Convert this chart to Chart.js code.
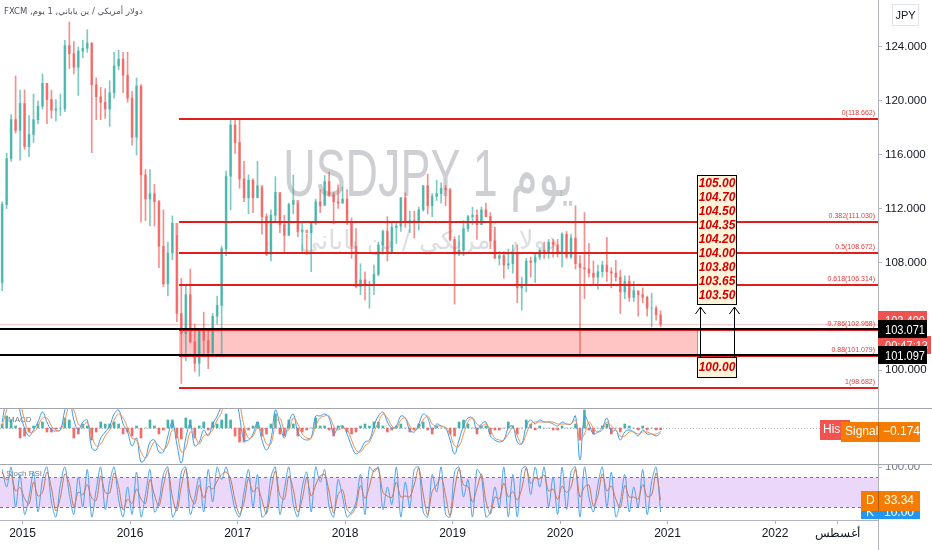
<!DOCTYPE html>
<html>
<head>
<meta charset="utf-8">
<script src="https://cdn.jsdelivr.net/npm/chart.js@4.4.1/dist/chart.umd.min.js"></script>
<style>
body { margin: 0; background: #fff; }
#wrap { position: relative; width: 932px; height: 550px; overflow: hidden; }
canvas { position: absolute; left: 0; }
</style>
</head>
<body>
<div id="wrap">
  <canvas id="main" width="932" height="408" style="top:0"></canvas>
  <canvas id="macd" width="932" height="56" style="top:408px"></canvas>
  <canvas id="stoch" width="932" height="86" style="top:464px"></canvas>
</div>
<script>
// half-month candles, from the second half of Oct 2014 to early Dec 2020
var periodStart = 2014.79;
var periodLen = 1 / 24;
var firstOpen = 106.5;

var highs = [112.5,116.1,118.98,121.85,120.8,
  120.8,118.9,120.5,120.0,122.0,121.3,120.8,120.1,120.5,124.5,125.86,124.4,124.0,124.5,125.28,124.3,121.7,121.0,120.9,121.5,123.6,123.75,123.6,123.6,
  120.7,121.7,121.2,114.9,114.9,113.8,112.6,111.9,109.5,111.45,110.0,106.8,106.3,107.5,103.4,103.0,104.3,102.9,104.2,105.5,109.2,114.8,118.66,118.6,
  118.6,115.5,114.5,114.2,115.5,113.5,111.6,111.9,114.37,113.1,111.5,112.4,114.49,112.4,110.95,110.1,111.0,112.7,113.4,114.45,114.7,113.2,113.75,113.6,
  113.4,111.3,110.5,107.9,107.3,106.6,107.8,109.5,110.4,111.4,110.9,110.9,112.8,113.17,111.8,111.8,112.1,113.7,114.55,113.1,114.1,113.9,113.7,113.5,
  109.9,110.0,111.1,111.5,112.1,111.9,112.1,112.4,111.7,110.6,108.8,108.8,108.99,109.3,109.3,106.9,108.3,108.4,108.6,109.0,109.5,109.7,109.7,109.7,
  110.2,110.3,110.1,112.2,108.5,111.7,109.4,108.1,107.8,108.1,109.85,107.6,108.15,107.4,107.0,107.0,106.6,105.8,106.1,105.5,105.7,104.75,104.4];
var lows = [105.9,112.0,115.5,117.6,115.6,
  116.4,115.85,116.9,118.3,119.4,118.3,118.7,118.5,118.9,119.2,122.4,122.0,120.4,123.2,123.6,116.15,118.6,118.6,118.7,118.1,120.2,122.3,120.6,119.9,
  116.7,115.97,110.98,111.1,110.7,110.7,107.6,106.2,105.5,108.2,103.6,99.0,100.7,102.0,99.9,99.55,101.2,100.1,101.2,103.4,101.2,108.5,111.9,116.1,
  113.5,112.5,111.6,111.7,112.8,110.1,108.5,108.1,111.0,110.2,108.8,110.0,111.6,109.9,108.7,108.6,107.3,110.8,111.7,112.3,112.9,110.85,112.0,112.4,
  110.8,108.3,106.1,105.6,105.2,104.6,105.6,107.0,108.6,108.1,108.8,109.4,110.3,110.6,110.2,109.8,110.4,111.8,111.6,111.4,112.6,112.4,112.2,109.6,
  104.9,108.5,108.5,110.3,110.8,109.7,110.8,111.4,109.0,108.3,107.8,106.8,107.5,107.2,105.0,104.45,105.8,106.9,106.5,108.2,108.3,108.3,108.4,108.4,
  107.65,108.3,108.3,107.5,101.18,105.3,106.9,106.4,106.0,106.9,106.6,106.1,106.6,104.2,105.3,105.1,105.1,104.0,105.0,104.0,103.2,103.7,103.2];
var closes = [112.3,115.7,118.6,117.8,119.8,
  116.6,117.5,118.6,119.6,121.3,120.1,119.3,119.4,119.4,124.1,123.5,122.5,123.7,123.9,124.3,121.2,120.3,119.9,119.4,120.6,122.6,123.1,121.9,120.2,
  117.3,121.1,114.5,112.7,113.1,112.5,109.2,106.4,108.7,110.9,104.2,102.7,105.6,102.1,100.5,102.9,102.2,101.3,104.0,104.8,109.0,114.4,118.2,116.9,
  114.2,112.8,114.1,112.8,113.7,111.4,108.6,111.5,113.2,110.8,110.0,112.3,112.6,110.3,110.4,110.2,110.9,112.5,112.2,114.0,113.0,112.5,112.4,112.7,
  111.0,109.2,106.2,106.7,106.3,106.3,107.1,109.3,110.3,108.8,110.6,110.7,112.8,111.0,111.1,111.0,111.9,113.7,112.2,112.9,113.1,113.5,113.4,109.7,
  108.6,108.9,110.5,111.4,111.5,110.8,111.9,111.4,109.6,108.3,108.5,107.8,107.9,108.7,106.1,106.3,108.1,108.0,108.4,108.9,108.8,109.5,109.3,108.7,
  110.1,108.4,109.8,107.9,107.6,107.5,107.2,106.9,107.3,107.8,107.3,107.2,106.9,105.8,106.6,105.4,105.9,105.6,105.4,104.6,104.6,104.1,103.4];

var macdLine = [0.3,1.5,2.0,2.0,0.8,
  0.0,-0.4,-0.1,0.3,0.8,0.3,-0.1,-0.15,-0.1,0.9,1.5,0.4,-0.1,0.3,0.4,-1.0,-1.1,-0.5,-0.2,0.1,0.7,0.9,0.2,-0.2,
  -0.9,-0.5,-1.7,-1.5,-0.7,-0.6,-1.2,-1.2,-0.4,0.3,-0.8,-1.75,-0.5,0.2,-0.9,-0.7,-0.1,-0.4,0.2,0.6,1.2,2.5,3.0,2.0,
  0.6,-0.6,-0.6,-0.3,0.3,-0.6,-1.1,-0.6,0.9,0.2,-0.5,0.3,0.7,-0.2,-0.5,-0.6,-0.5,0.6,0.6,0.7,0.5,-0.3,0.0,0.1,
  -0.3,-0.9,-1.3,-1.1,-0.7,-0.6,0.1,0.6,0.8,0.3,0.0,0.1,0.6,0.5,-0.1,-0.2,0.2,0.7,0.5,-0.1,0.2,0.1,0.0,-0.6,
  -1.3,-0.6,0.1,0.5,0.5,-0.1,0.2,0.3,-0.4,-0.6,-0.7,-0.6,0.0,0.1,-0.7,-0.8,0.1,0.4,0.2,0.4,0.3,0.3,0.2,0.1,
  0.3,0.2,0.2,0.6,-1.6,0.6,0.2,-0.3,-0.2,0.0,0.5,-0.2,-0.1,-0.6,-0.2,-0.1,-0.2,-0.4,-0.1,-0.3,-0.3,-0.4,-0.25];
var signalLine = [0.1,0.9,1.6,1.9,1.3,
  0.4,-0.2,-0.2,0.1,0.5,0.5,0.1,-0.1,-0.1,0.4,1.1,0.9,0.2,0.1,0.3,-0.4,-0.9,-0.8,-0.4,-0.1,0.4,0.7,0.5,0.0,
  -0.5,-0.6,-1.2,-1.5,-1.1,-0.7,-0.9,-1.1,-0.8,-0.1,-0.3,-1.2,-1.0,-0.2,-0.4,-0.8,-0.4,-0.3,-0.1,0.4,0.8,1.8,2.6,2.4,
  1.3,0.1,-0.5,-0.4,0.0,-0.2,-0.8,-0.8,0.2,0.5,-0.1,-0.1,0.5,0.2,-0.3,-0.5,-0.5,0.1,0.5,0.6,0.6,0.1,-0.1,0.0,
  -0.1,-0.6,-1.1,-1.2,-0.9,-0.7,-0.2,0.3,0.7,0.5,0.1,0.0,0.4,0.5,0.1,-0.1,0.0,0.4,0.6,0.2,0.1,0.1,0.0,-0.3,
  -0.9,-0.9,-0.3,0.3,0.5,0.2,0.1,0.2,-0.1,-0.5,-0.6,-0.6,-0.3,0.0,-0.4,-0.8,-0.3,0.2,0.3,0.3,0.3,0.3,0.3,0.2,
  0.2,0.2,0.2,0.4,-0.6,-0.3,0.3,0.0,-0.2,-0.1,0.3,0.1,-0.1,-0.4,-0.4,-0.2,-0.2,-0.3,-0.2,-0.2,-0.3,-0.3,-0.174];
var macdHist = [0.2,0.6,0.4,0.1,-0.5,
  -0.4,-0.2,0.1,0.2,0.3,-0.2,-0.2,-0.05,0.0,0.5,0.4,-0.5,-0.3,0.2,0.1,-0.6,-0.2,0.3,0.2,0.2,0.3,0.2,-0.3,-0.2,
  -0.4,0.1,-0.5,0.0,0.4,0.1,-0.3,-0.1,0.4,0.4,-0.5,-0.55,0.5,0.4,-0.5,0.1,0.3,-0.1,0.3,0.2,0.4,0.7,0.4,-0.4,
  -0.7,-0.7,-0.1,0.1,0.3,-0.4,-0.3,0.2,0.7,-0.3,-0.4,0.4,0.2,-0.4,-0.2,-0.1,0.0,0.5,0.1,0.1,-0.1,-0.4,0.1,0.1,
  -0.2,-0.3,-0.2,0.1,0.2,0.1,0.3,0.3,0.1,-0.2,-0.1,0.1,0.2,0.0,-0.2,-0.1,0.2,0.3,-0.1,-0.3,0.1,0.0,0.0,-0.3,
  -0.4,0.3,0.4,0.2,0.0,-0.3,0.1,0.1,-0.3,-0.1,-0.1,0.0,0.3,0.1,-0.3,0.0,0.4,0.2,-0.1,0.1,0.0,0.0,-0.1,-0.1,
  0.1,0.0,0.0,0.2,-0.6,0.9,-0.1,-0.3,0.0,0.1,0.2,-0.3,0.0,-0.2,0.2,0.1,0.0,-0.1,0.1,-0.1,0.0,-0.1,-0.08];

var stochK = [95,60,100,20,85,5,40,90,10,75,100,30,0,65,100,45,5,80,20,95,
  0,55,100,15,70,100,35,0,60,5,90,0,45,95,10,30,85,100,0,20,
  90,100,5,40,80,10,95,30,100,75,100,60,15,0,50,95,20,85,0,10,
  80,100,5,55,100,25,0,60,90,10,100,70,95,20,0,75,40,0,10,30,
  85,5,100,90,100,15,60,25,100,0,70,20,95,100,10,0,85,50,100,5,
  0,90,100,40,75,0,95,80,0,10,60,20,100,0,85,0,95,100,45,100,
  60,100,20,80,5,100,15,90,100,0,100,40,10,65,100,20,90,0,30,85,
  10,60,20,95,5,70,100,10];
var stochD = [90,74,84,52,59,37,26,70,42,49,90,58,12,39,86,67,21,50,44,65,
  38,33,82,49,48,88,61,14,36,27,56,36,27,75,44,22,63,94,40,12,
  62,96,43,26,64,38,61,56,72,85,90,76,33,6,30,77,50,59,34,6,
  52,92,43,35,82,55,10,36,78,42,64,82,85,50,8,45,54,16,6,22,
  63,37,62,94,96,49,42,39,70,40,42,40,65,98,46,4,51,64,80,43,
  2,54,96,64,61,30,57,86,32,6,40,36,68,40,51,34,57,98,67,78,
  76,84,52,56,35,62,49,60,96,40,60,64,22,43,86,52,62,36,18,63,
  40,40,36,65,41,44,88,33.34];

var priceTicks = [100, 104, 108, 112, 116, 120, 124];
var yearTicks = [2015, 2016, 2017, 2018, 2019, 2020, 2021, 2022, 2022.58];
var yearLabels = ['2015', '2016', '2017', '2018', '2019', '2020', '2021', '2022', 'أغسطس'];

var fibRatios = [0, 0.382, 0.5, 0.618, 0.786, 0.88, 1];
var fibPrices = [118.662, 111.030, 108.672, 106.314, 102.958, 101.079, 98.682];
var supportLevels = [103.071, 101.097];
var targetLevels = [105.00, 104.70, 104.50, 104.35, 104.20, 104.00, 103.80, 103.65, 103.50];
var stopLevel = 100.00;

// drawing anchors (date, price) for the hand drawn tools
var xMin = 2014.7907, xMax = 2022.9581;
var fibFrom = 2016.456;
var zoneTo = 2021.274;
var targetBox = { from: 2021.274, to: 2021.647, top: 114.5 };
var stopBoxTop = 100.97;
var arrowDates = [2021.302, 2021.623];

var titleText = 'دولار أمريكي / ين ياباني, 1 يوم, FXCM';
var watermark1 = 'USDJPY 1 يوم';
var watermark2 = 'دولار أمريكي / ين ياباني';

Chart.defaults.font.family = '"Liberation Sans", Arial, sans-serif';
var axisGray = '#b2b5be';
var upColor = 'rgba(38,166,154,0.6)';
var downColor = 'rgba(239,83,80,0.65)';

var xs = closes.map(function (c, i) { return periodStart + (i + 0.5) * periodLen; });
var opens = closes.map(function (c, i) { return i === 0 ? firstOpen : closes[i - 1]; });
var candleColors = closes.map(function (c, i) { return c >= opens[i] ? upColor : downColor; });

function fixWidth(s) { s.width = 54; s.paddingTop = 0; s.paddingBottom = 0; }

// label box sitting on the price scale, narrow digits like the original
function priceBox(ctx, yc, text, bg, x0, x1) {
  yc = Math.round(yc);
  ctx.fillStyle = bg;
  ctx.fillRect(x0, yc - 9, x1 - x0, 18);
  ctx.save();
  ctx.fillStyle = '#fff';
  ctx.font = '13px "Liberation Sans"';
  ctx.textAlign = 'left';
  ctx.textBaseline = 'middle';
  ctx.translate(x0 + 7, yc + 1);
  ctx.scale(0.85, 1);
  ctx.fillText(text, 0, 0);
  ctx.restore();
}

var mainOverlay = {
  id: 'mainOverlay',
  beforeDatasetsDraw: function (chart) {
    var ctx = chart.ctx, a = chart.chartArea, x = chart.scales.x, y = chart.scales.y;
    ctx.save();
    // watermark
    ctx.textAlign = 'center';
    ctx.textBaseline = 'alphabetic';
    ctx.fillStyle = 'rgba(120,123,134,0.36)';
    ctx.save();
    ctx.translate(a.left + a.width * 0.488, a.top + a.height * 0.48);
    ctx.scale(0.68, 1);
    ctx.font = '66px "Liberation Sans", "DejaVu Sans"';
    ctx.fillText(watermark1, 0, 0);
    ctx.restore();
    ctx.fillStyle = 'rgba(120,123,134,0.25)';
    ctx.font = '26px "DejaVu Sans"';
    ctx.fillText(watermark2, a.left + a.width * 0.488, a.top + a.height * 0.61);
    // zone
    var zx0 = x.getPixelForValue(fibFrom), zx1 = x.getPixelForValue(zoneTo);
    var zy0 = y.getPixelForValue(fibPrices[4]), zy1 = y.getPixelForValue(fibPrices[5]);
    ctx.fillStyle = 'rgba(255,60,60,0.3)';
    ctx.fillRect(zx0, zy0, zx1 - zx0, zy1 - zy0);
    ctx.strokeStyle = '#5cc65c';
    ctx.lineWidth = 1;
    ctx.beginPath();
    ctx.moveTo(zx1 + 0.5, zy0); ctx.lineTo(zx1 + 0.5, zy1);
    ctx.stroke();
    // last price line
    var ly = Math.round(y.getPixelForValue(closes[closes.length - 1])) + 0.5;
    ctx.strokeStyle = 'rgba(239,83,80,0.3)';
    ctx.beginPath(); ctx.moveTo(a.left, ly); ctx.lineTo(a.right, ly); ctx.stroke();
    ctx.restore();
  },
  afterDatasetsDraw: function (chart) {
    var ctx = chart.ctx, a = chart.chartArea, x = chart.scales.x, y = chart.scales.y;
    ctx.save();
    var fx0 = x.getPixelForValue(fibFrom), zx1 = x.getPixelForValue(zoneTo);
    // zone edges
    ctx.strokeStyle = '#4caf50';
    ctx.lineWidth = 1.5;
    [fibPrices[4], fibPrices[5]].forEach(function (p) {
      var yy = y.getPixelForValue(p);
      ctx.beginPath(); ctx.moveTo(fx0, yy); ctx.lineTo(zx1, yy); ctx.stroke();
    });
    // fib levels
    ctx.lineWidth = 2;
    ctx.strokeStyle = '#e01e1e';
    ctx.font = '7px "Liberation Sans"';
    ctx.textAlign = 'right';
    ctx.textBaseline = 'bottom';
    fibPrices.forEach(function (p, i) {
      var yy = Math.round(y.getPixelForValue(p));
      ctx.beginPath(); ctx.moveTo(fx0, yy); ctx.lineTo(a.right, yy); ctx.stroke();
      ctx.fillStyle = '#e53935';
      ctx.fillText(fibRatios[i] + '(' + p.toFixed(3) + ')', a.right - 3, yy - 2);
    });
    // support lines
    ctx.strokeStyle = '#000';
    ctx.lineWidth = 2;
    supportLevels.forEach(function (p) {
      var yy = Math.round(y.getPixelForValue(p));
      ctx.beginPath(); ctx.moveTo(a.left, yy); ctx.lineTo(a.right, yy); ctx.stroke();
    });
    // target box
    var bx0 = Math.round(x.getPixelForValue(targetBox.from)), bx1 = Math.round(x.getPixelForValue(targetBox.to));
    var by0 = Math.round(y.getPixelForValue(targetBox.top));
    var lineH = 14, bh = targetLevels.length * lineH + 4;
    ctx.fillStyle = '#fff3d9';
    ctx.fillRect(bx0, by0, bx1 - bx0, bh);
    ctx.lineWidth = 1;
    ctx.strokeRect(bx0 + 0.5, by0 + 0.5, bx1 - bx0 - 1, bh - 1);
    ctx.fillStyle = '#d40000';
    ctx.font = 'italic bold 12px "Liberation Sans"';
    ctx.textAlign = 'center';
    ctx.textBaseline = 'middle';
    targetLevels.forEach(function (v, k) {
      ctx.fillText(v.toFixed(2), (bx0 + bx1) / 2, by0 + 9 + k * lineH);
    });
    // stop box
    var sy0 = Math.round(y.getPixelForValue(stopBoxTop));
    ctx.fillStyle = '#fff3d9';
    ctx.fillRect(bx0, sy0, bx1 - bx0, 21);
    ctx.strokeRect(bx0 + 0.5, sy0 + 0.5, bx1 - bx0 - 1, 20);
    ctx.fillStyle = '#d40000';
    ctx.fillText(stopLevel.toFixed(2), (bx0 + bx1) / 2, sy0 + 11);
    // arrows
    ctx.strokeStyle = '#000';
    ctx.lineWidth = 1;
    arrowDates.forEach(function (d) {
      var ax = Math.round(x.getPixelForValue(d)) + 0.5, tip = by0 + bh + 2;
      ctx.beginPath();
      ctx.moveTo(ax, sy0); ctx.lineTo(ax, tip);
      ctx.moveTo(ax - 5, tip + 7); ctx.lineTo(ax, tip); ctx.lineTo(ax + 5, tip + 7);
      ctx.stroke();
    });
    ctx.restore();
  },
  afterDraw: function (chart) {
    var ctx = chart.ctx, a = chart.chartArea, y = chart.scales.y;
    ctx.save();
    var last = closes[closes.length - 1];
    var ly = y.getPixelForValue(last);
    priceBox(ctx, ly - 4, last.toFixed(3), '#ef5350', a.right, a.right + 49);
    priceBox(ctx, ly + 21, '00:47:13', '#ef5350', a.right, a.right + 53);
    supportLevels.forEach(function (p) {
      priceBox(ctx, y.getPixelForValue(p), p.toFixed(3), '#000', a.right, a.right + 49);
    });
    // currency box
    ctx.strokeStyle = '#e0e3eb';
    ctx.lineWidth = 1;
    ctx.strokeRect(892.5, 4.5, 26, 21);
    ctx.fillStyle = '#131722';
    ctx.font = '11px "Liberation Sans"';
    ctx.textAlign = 'center';
    ctx.textBaseline = 'middle';
    ctx.fillText('JPY', 905.5, 15.5);
    // title
    ctx.fillStyle = '#50535e';
    ctx.font = '8.5px "DejaVu Sans"';
    ctx.direction = 'rtl';
    ctx.textAlign = 'left';
    ctx.fillText(titleText, 4, 12);
    ctx.restore();
  }
};

new Chart(document.getElementById('main'), {
  type: 'bar',
  data: {
    datasets: [{
      data: xs.map(function (v, i) { return { x: v, y: [lows[i], highs[i]] }; }),
      backgroundColor: candleColors,
      barThickness: 1,
      grouped: false
    }, {
      data: xs.map(function (v, i) { return { x: v, y: [opens[i], closes[i]] }; }),
      backgroundColor: candleColors,
      barThickness: 2,
      grouped: false
    }]
  },
  options: {
    responsive: false,
    animation: false,
    events: [],
    layout: { padding: 0 },
    plugins: { legend: { display: false }, tooltip: { enabled: false } },
    scales: {
      x: { type: 'linear', min: xMin, max: xMax, display: false, offset: false, grid: { offset: false } },
      y: {
        position: 'right', min: 97.18, max: 127.49, beginAtZero: false,
        afterFit: fixWidth,
        afterBuildTicks: function (s) { s.ticks = priceTicks.map(function (v) { return { value: v }; }); },
        ticks: { callback: function (v) { return v.toFixed(3); }, color: '#131722', font: { size: 11.5 }, padding: 3 },
        grid: { drawOnChartArea: false, tickLength: 4, color: axisGray },
        border: { color: axisGray }
      }
    }
  },
  plugins: [mainOverlay]
});

var macdOverlay = {
  id: 'macdOverlay',
  beforeDatasetsDraw: function (chart) {
    var ctx = chart.ctx, a = chart.chartArea, y = chart.scales.y;
    ctx.save();
    var zy = Math.round(y.getPixelForValue(0)) + 0.5;
    ctx.strokeStyle = 'rgba(120,123,134,0.5)';
    ctx.setLineDash([1, 2]);
    ctx.beginPath(); ctx.moveTo(a.left, zy); ctx.lineTo(a.right, zy); ctx.stroke();
    ctx.setLineDash([]);
    ctx.fillStyle = '#787b86';
    ctx.font = '8px "Liberation Sans"';
    ctx.textBaseline = 'middle';
    ctx.fillText('MACD', 8, 12);
    ctx.restore();
  },
  afterDraw: function (chart) {
    var ctx = chart.ctx, a = chart.chartArea, y = chart.scales.y;
    ctx.save();
    ctx.strokeStyle = '#a3a6af';
    ctx.lineWidth = 1;
    ctx.beginPath(); ctx.moveTo(0, 0.5); ctx.lineTo(932, 0.5); ctx.stroke();
    var sv = signalLine[signalLine.length - 1];
    var sy = Math.round(y.getPixelForValue(sv));
    ctx.fillStyle = '#f05350';
    ctx.fillRect(a.right - 58, sy - 11, 30, 20);
    ctx.fillStyle = '#fff';
    ctx.font = '12px "Liberation Sans"';
    ctx.textBaseline = 'middle';
    ctx.textAlign = 'left';
    ctx.fillText('His', a.right - 55, sy - 1);
    ctx.fillStyle = '#f57c00';
    ctx.fillRect(a.right - 37, sy - 9, 79, 20);
    ctx.fillStyle = '#fff';
    ctx.fillText('Signal', a.right - 33, sy + 1);
    ctx.fillText(sv.toFixed(3).replace('-', '\u2212'), a.right + 5, sy + 1);
    ctx.strokeStyle = 'rgba(0,0,0,0.25)';
    ctx.beginPath(); ctx.moveTo(a.right + 0.5, sy - 9); ctx.lineTo(a.right + 0.5, sy + 11); ctx.stroke();
    ctx.restore();
  }
};

new Chart(document.getElementById('macd'), {
  type: 'bar',
  data: {
    datasets: [{
      type: 'line',
      data: xs.map(function (v, i) { return { x: v, y: signalLine[i] }; }),
      borderColor: '#e8915a', borderWidth: 1, pointRadius: 0, tension: 0.4
    }, {
      type: 'line',
      data: xs.map(function (v, i) { return { x: v, y: macdLine[i] }; }),
      borderColor: '#3d9be9', borderWidth: 1, pointRadius: 0, tension: 0.4
    }, {
      data: xs.map(function (v, i) { return { x: v, y: macdHist[i] }; }),
      backgroundColor: macdHist.map(function (h) { return h >= 0 ? 'rgba(38,166,154,0.85)' : 'rgba(239,83,80,0.85)'; }),
      barThickness: 2,
      grouped: false
    }]
  },
  options: {
    responsive: false,
    animation: false,
    events: [],
    layout: { padding: 0 },
    plugins: { legend: { display: false }, tooltip: { enabled: false } },
    scales: {
      x: { type: 'linear', min: xMin, max: xMax, display: false, offset: false, grid: { offset: false } },
      y: {
        position: 'right', min: -1.8, max: 1.0, beginAtZero: false,
        afterFit: fixWidth,
        ticks: { display: false },
        grid: { display: false },
        border: { color: axisGray }
      }
    }
  },
  plugins: [macdOverlay]
});

var stochOverlay = {
  id: 'stochOverlay',
  beforeDatasetsDraw: function (chart) {
    var ctx = chart.ctx, a = chart.chartArea, y = chart.scales.y;
    ctx.save();
    var y80 = Math.round(y.getPixelForValue(80)) + 0.5, y20 = Math.round(y.getPixelForValue(20)) + 0.5;
    ctx.fillStyle = '#ead7fa';
    ctx.fillRect(a.left, y80, a.width, y20 - y80);
    ctx.strokeStyle = '#7f6f8f';
    ctx.setLineDash([3, 3]);
    ctx.beginPath();
    ctx.moveTo(a.left, y80); ctx.lineTo(a.right, y80);
    ctx.moveTo(a.left, y20); ctx.lineTo(a.right, y20);
    ctx.stroke();
    ctx.setLineDash([]);
    ctx.fillStyle = '#787b86';
    ctx.font = '8px "Liberation Sans"';
    ctx.textBaseline = 'middle';
    ctx.fillText('Stoch RSI', 6, 10);
    ctx.restore();
  },
  afterDraw: function (chart) {
    var ctx = chart.ctx, a = chart.chartArea, y = chart.scales.y;
    ctx.save();
    ctx.strokeStyle = '#a3a6af';
    ctx.lineWidth = 1;
    ctx.beginPath(); ctx.moveTo(0, 0.5); ctx.lineTo(932, 0.5); ctx.stroke();
    ctx.strokeStyle = axisGray;
    ctx.beginPath(); ctx.moveTo(a.right + 0.5, a.bottom); ctx.lineTo(a.right + 0.5, 86); ctx.stroke();
    var kv = stochK[stochK.length - 1], dv = stochD[stochD.length - 1];
    var ky = Math.round(y.getPixelForValue(kv)), dy = Math.round(y.getPixelForValue(dv));
    ctx.font = '12px "Liberation Sans"';
    ctx.textBaseline = 'middle';
    ctx.textAlign = 'left';
    ctx.fillStyle = '#2196f3';
    ctx.fillRect(a.right - 17, ky - 9, 59, Math.min(18, a.bottom - ky + 8));
    ctx.fillStyle = '#fff';
    ctx.fillText('K', a.right - 12, ky + 1);
    ctx.fillText(kv.toFixed(2), a.right + 6, ky + 1);
    ctx.fillStyle = '#f57c00';
    ctx.fillRect(a.right - 17, dy - 9, 59, 20);
    ctx.fillStyle = '#fff';
    ctx.fillText('D', a.right - 12, dy + 1);
    ctx.fillText(dv.toFixed(2), a.right + 6, dy + 1);
    ctx.strokeStyle = 'rgba(0,0,0,0.25)';
    ctx.beginPath(); ctx.moveTo(a.right + 0.5, dy - 9); ctx.lineTo(a.right + 0.5, dy + 11); ctx.stroke();
    ctx.restore();
  }
};

new Chart(document.getElementById('stoch'), {
  type: 'line',
  data: {
    datasets: [{
      data: xs.map(function (v, i) { return { x: v, y: stochD[i] }; }),
      borderColor: '#c47a5a', borderWidth: 1, pointRadius: 0, tension: 0.3
    }, {
      data: xs.map(function (v, i) { return { x: v, y: stochK[i] }; }),
      borderColor: '#4ea3ea', borderWidth: 1, pointRadius: 0, tension: 0.3
    }]
  },
  options: {
    responsive: false,
    animation: false,
    events: [],
    layout: { padding: 0 },
    plugins: { legend: { display: false }, tooltip: { enabled: false } },
    scales: {
      x: {
        type: 'linear', min: xMin, max: xMax,
        afterFit: function (s) { s.height = 30; s.paddingLeft = 0; s.paddingRight = 0; },
        afterBuildTicks: function (s) { s.ticks = yearTicks.map(function (v) { return { value: v }; }); },
        ticks: {
          autoSkip: false, maxRotation: 0, padding: 2, color: '#131722', font: { size: 12 },
          callback: function (v, i) { return yearLabels[i]; }
        },
        grid: { drawOnChartArea: false, tickLength: 4, color: axisGray },
        border: { color: axisGray }
      },
      y: {
        position: 'right', min: -6, max: 106,
        afterFit: fixWidth,
        afterBuildTicks: function (s) { s.ticks = [{ value: 100 }]; },
        ticks: { callback: function (v) { return v.toFixed(2); }, color: '#787b86', font: { size: 11.5 }, padding: 3 },
        grid: { drawOnChartArea: false, tickLength: 4, color: axisGray },
        border: { color: axisGray }
      }
    }
  },
  plugins: [stochOverlay]
});
</script>
</body>
</html>
